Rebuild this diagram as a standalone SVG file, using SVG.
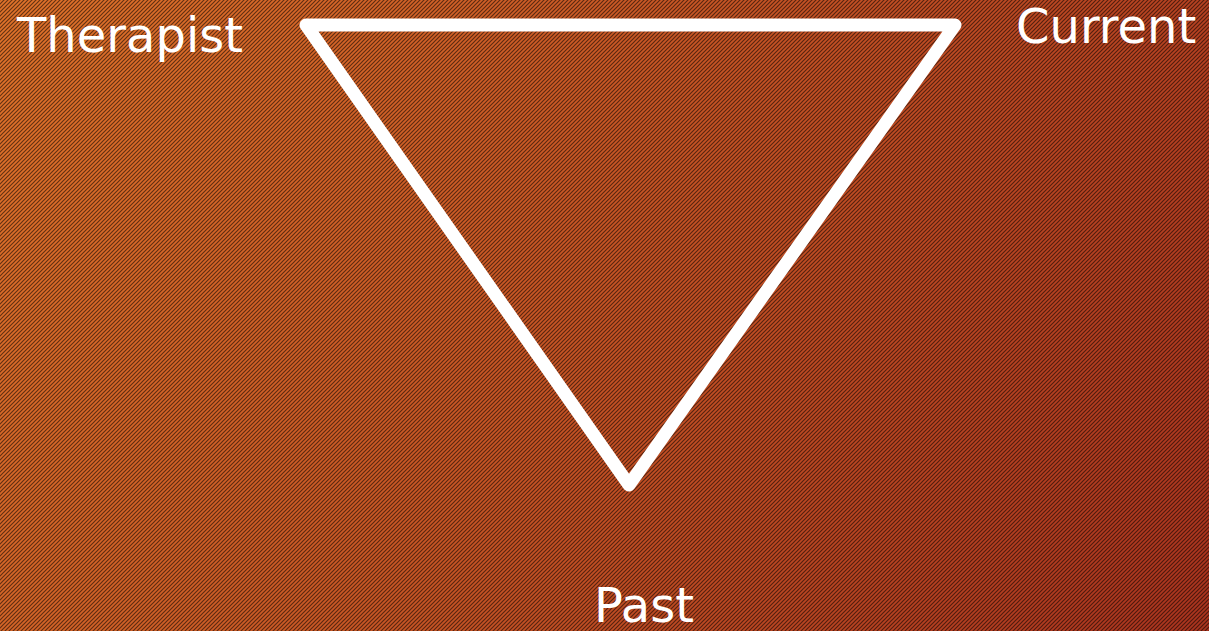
<svg xmlns="http://www.w3.org/2000/svg" width="1209" height="631" viewBox="0 0 1209 631">
  <defs>
    <linearGradient id="bg" gradientUnits="userSpaceOnUse" x1="0" y1="0" x2="1209" y2="631">
      <stop offset="0" stop-color="#e2732a"/>
      <stop offset="1" stop-color="#ac341e"/>
    </linearGradient>
    <pattern id="stripes" patternUnits="userSpaceOnUse" width="4" height="4">
      <path d="M-1,1 L1,-1 M0,4 L4,0 M3,5 L5,3" stroke="#000" stroke-width="1.2"/>
    </pattern>
    <style>
      .lbl { font-family: "DejaVu Sans", Verdana, sans-serif; font-size: 48px; fill: #ffffff; }
      .tri { fill: none; stroke: #ffffff; stroke-width: 13; stroke-linejoin: round; stroke-linecap: round; }
    </style>
  </defs>
  <rect width="1209" height="631" fill="url(#bg)"/>
  <rect width="1209" height="631" fill="url(#stripes)" opacity="0.55"/>
  <g id="connectors">
    <polygon class="tri" points="306,25 955,25 629,485"/>
  </g>
  <g id="node-therapist"><text class="lbl" x="17" y="52">Therapist</text></g>
  <g id="node-current"><text class="lbl" x="1016" y="43">Current</text></g>
  <g id="node-past"><text class="lbl" x="644" y="622" text-anchor="middle">Past</text></g>
</svg>
